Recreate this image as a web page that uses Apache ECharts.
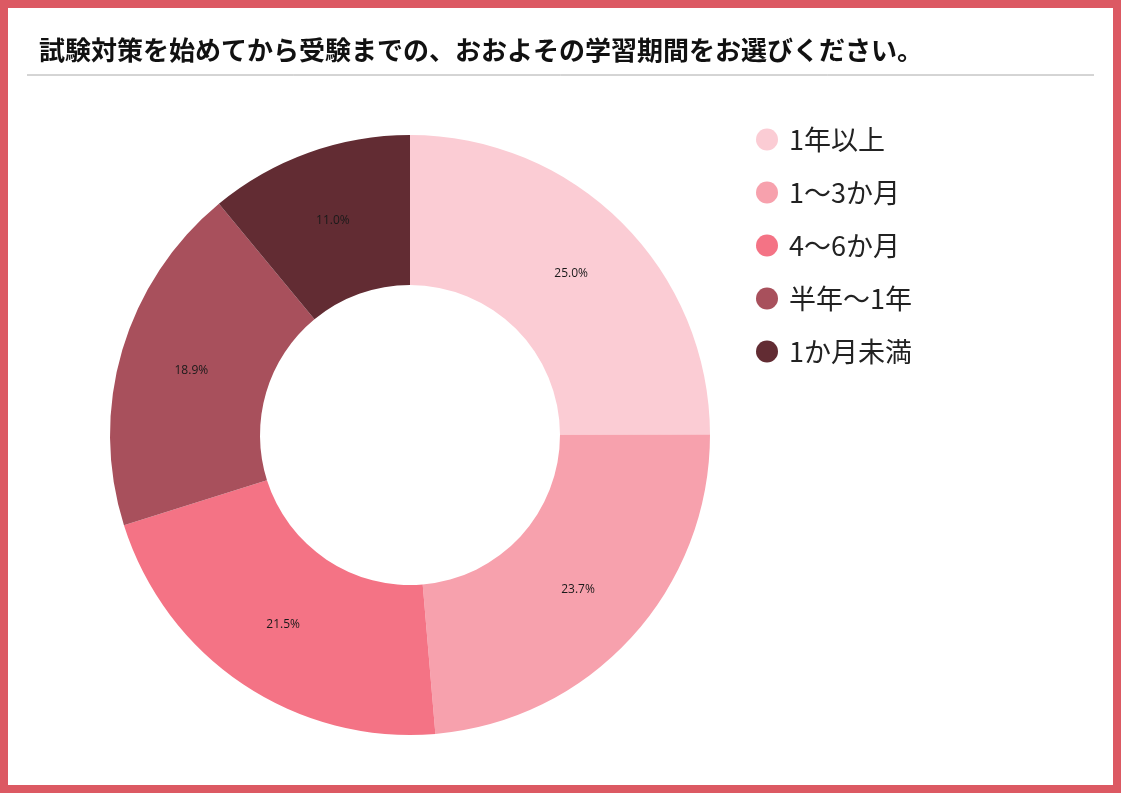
<!DOCTYPE html>
<html>
<head>
<meta charset="utf-8">
<script src="https://cdn.jsdelivr.net/npm/echarts@6/dist/echarts.min.js"></script>
<style>
  html, body { margin: 0; padding: 0; background: #fff; }
  #chart {
    width: 1121px;
    height: 793px;
    box-sizing: border-box;
    border: 8px solid #DC5963;
  }
</style>
</head>
<body>
<div id="chart"></div>
<script>
// 学習期間の回答割合 (%)
const categories = ['1年以上', '1～3か月', '4～6か月', '半年～1年', '1か月未満']
const values = [25.0, 23.7, 21.5, 18.9, 11.0]
const colors = ['#FBCCD4', '#F7A1AD', '#F47385', '#A8505C', '#622C33']

const titleText = '試験対策を始めてから受験までの、おおよその学習期間をお選びください。'
const jpFont = '"Noto Sans CJK JP", "Noto Sans", sans-serif'

const chart = echarts.init(document.getElementById('chart'))

chart.setOption({
  backgroundColor: '#fff',
  animation: false,
  title: {
    text: titleText,
    left: 26,
    top: 24,
    textStyle: {
      fontFamily: jpFont,
      fontSize: 26,
      fontWeight: 'bold',
      color: '#111'
    }
  },
  graphic: [
    {
      type: 'line',
      shape: { x1: 19, y1: 67, x2: 1086, y2: 67 },
      style: { stroke: '#aaaaaa', lineWidth: 1 }
    }
  ],
  legend: {
    orient: 'vertical',
    left: 743,
    top: 113,
    icon: 'circle',
    itemWidth: 22,
    itemHeight: 22,
    itemGap: 26,
    textStyle: {
      fontFamily: jpFont,
      fontSize: 27,
      color: '#222',
      padding: [0, 0, 0, 6]
    },
    data: categories
  },
  series: [
    {
      type: 'pie',
      center: [402, 427],
      radius: [150, 300],
      startAngle: 90,
      clockwise: true,
      avoidLabelOverlap: false,
      label: {
        show: true,
        position: 'inside',
        formatter: p => p.value.toFixed(1) + '%',
        fontFamily: '"Open Sans", "DejaVu Sans", sans-serif',
        fontSize: 12,
        color: '#1a1a1a'
      },
      labelLine: { show: false },
      emphasis: { disabled: true },
      itemStyle: { borderWidth: 0 },
      data: categories.map((name, i) => ({
        name,
        value: values[i],
        itemStyle: { color: colors[i] }
      }))
    }
  ]
})
</script>
</body>
</html>
